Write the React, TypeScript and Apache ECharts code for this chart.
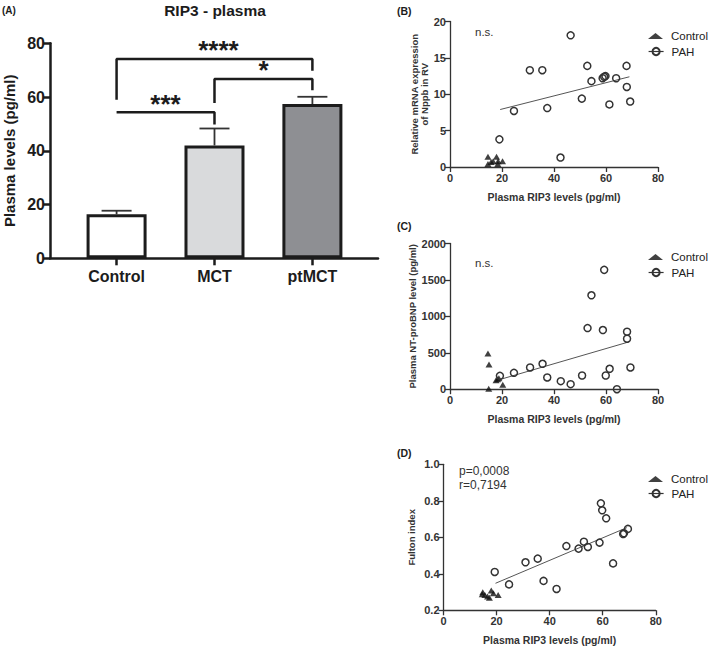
import React, { useEffect, useRef } from 'react';
import * as echarts from 'echarts';

// ---------- Panel A: RIP3 plasma bar chart ----------
const groups = ['Control', 'MCT', 'ptMCT'];
const means = [16.4, 42.0, 57.4];
const sems = [1.3, 6.3, 2.7];
const barColors = ['#ffffff', '#d9dadc', '#8e8f93'];
const yTicksA = { min: 0, max: 80, interval: 20 };

// significance brackets: polyline vertices [groupIndex, value]
const bracketStar3 = [[0, 54.3], [1, 54.3], [1, 49.8]];
const bracketStar1 = [[1, 57.8], [1, 66.7], [2, 66.7], [2, 62.5]];
const bracketStar4 = [[0, 59.0], [0, 74.2], [2, 74.2], [2, 69.8]];
const sigLabels = ['***', '*', '****'];
const sigLabelAt = [[0.5, 57.4], [1.5, 69.9], [1.04, 77.4]];

// ---------- Panel B: Nppb mRNA vs RIP3 ----------
const bControl = [[14.6, 1.4], [14.6, 0.4], [15.8, 0.7], [16.6, 0.8], [17.9, 1.4], [18.5, 0.8], [18.4, 0.4], [20.2, 0.8]];
const bPah = [[19.0, 3.8], [24.6, 7.7], [30.7, 13.3], [35.5, 13.3], [37.4, 8.1], [42.5, 1.3], [46.4, 18.1], [50.7, 9.4],
  [52.8, 13.9], [54.4, 11.8], [58.7, 12.2], [59.3, 12.4], [59.8, 12.5], [61.3, 8.6], [63.9, 12.2], [67.9, 13.9], [68.0, 11.0], [69.3, 9.0]];
const bFit = [[19.3, 7.9], [69.0, 12.4]];

// ---------- Panel C: NT-proBNP vs RIP3 ----------
const cControl = [[14.6, 491], [15.0, 339], [14.9, 5], [17.7, 124], [18.3, 138], [18.8, 150], [20.3, 60]];
const cPah = [[19.2, 183], [24.6, 225], [30.8, 298], [35.6, 349], [37.4, 161], [42.6, 110], [46.4, 69], [50.8, 188],
  [52.9, 839], [54.4, 1289], [58.8, 812], [59.3, 1638], [59.9, 188], [61.4, 280], [64.2, 0], [68.1, 789], [68.1, 693], [69.4, 298]];
const cFit = [[19.2, 133], [68.1, 642]];

// ---------- Panel D: Fulton index vs RIP3 ----------
const dControl = [[14.6, 0.288], [14.8, 0.299], [15.6, 0.284], [16.6, 0.275], [17.3, 0.269], [18.0, 0.308], [18.8, 0.293], [20.6, 0.284]];
const dPah = [[19.3, 0.410], [24.7, 0.342], [30.9, 0.463], [35.5, 0.483], [37.7, 0.361], [42.6, 0.317], [46.3, 0.552], [50.9, 0.538],
  [52.9, 0.576], [54.4, 0.547], [58.8, 0.571], [59.3, 0.786], [59.8, 0.748], [61.3, 0.704], [63.9, 0.457], [67.7, 0.618], [68.0, 0.622], [69.5, 0.646]];
const dFit = [[19.6, 0.348], [69.1, 0.653]];
const dStats = ['p=0,0008', 'r=0,7194'];

const FONT = '"Liberation Sans", Arial, Helvetica, sans-serif';
const INK = '#1c1c1c';
const SC = '#333333';

function scatterAxes(gi: number, yMin: number, yMax: number, yInt: number, yName: string, yFmt: (v: number) => string, yGap: number) {
  const x = {
    gridIndex: gi, type: 'value', min: 0, max: 80, interval: 20,
    splitLine: { show: false },
    axisLine: { show: true, onZero: false, lineStyle: { color: SC, width: 1.3 } },
    axisTick: { show: true, length: 5, lineStyle: { color: SC, width: 1.3 } },
    axisLabel: { fontSize: 11, fontWeight: 'bold', color: SC, margin: 5, fontFamily: FONT },
    name: 'Plasma RIP3 levels (pg/ml)', nameLocation: 'middle', nameGap: 24,
    nameTextStyle: { fontSize: 10.5, fontWeight: 'bold', color: SC, fontFamily: FONT },
  };
  const y = {
    gridIndex: gi, type: 'value', min: yMin, max: yMax, interval: yInt,
    splitLine: { show: false },
    axisLine: { show: true, onZero: false, lineStyle: { color: SC, width: 1.3 } },
    axisTick: { show: true, length: 5, lineStyle: { color: SC, width: 1.3 } },
    axisLabel: { fontSize: 11, fontWeight: 'bold', color: SC, margin: 4, fontFamily: FONT, formatter: yFmt },
    name: yName, nameLocation: 'middle', nameGap: yGap,
    nameTextStyle: { fontSize: 9.5, fontWeight: 'bold', color: SC, fontFamily: FONT, lineHeight: 10.5 },
  };
  return { x, y };
}

function scatterSeries(gi: number, ctrl: number[][], pah: number[][], fit: number[][]) {
  return [
    {
      type: 'line', name: 'fit' + gi, xAxisIndex: gi, yAxisIndex: gi, data: fit, symbol: 'none',
      lineStyle: { color: '#555', width: 1 }, z: 2, silent: true,
    },
    {
      type: 'scatter', name: 'Control', xAxisIndex: gi, yAxisIndex: gi, data: ctrl,
      symbol: 'triangle', symbolSize: [7, 6], itemStyle: { color: '#111' }, z: 3,
    },
    {
      type: 'line', name: 'PAH', xAxisIndex: gi, yAxisIndex: gi, data: pah,
      symbol: 'circle', symbolSize: 7, showSymbol: true, showAllSymbol: true,
      lineStyle: { width: 0, opacity: 0 },
      itemStyle: { color: 'rgba(255,255,255,0)', borderColor: SC, borderWidth: 1.5 }, z: 4,
    },
  ];
}

function legends(ctrlCenterY: number, pahCenterY: number) {
  const base = {
    left: 648, padding: 0, itemWidth: 15, selectedMode: false,
    textStyle: { fontSize: 11.5, color: '#222', fontFamily: FONT, padding: [0, 0, 0, 3] },
  };
  return [
    { ...base, data: ['Control'], top: ctrlCenterY - 3, itemHeight: 6 },
    { ...base, data: ['PAH'], top: pahCenterY - 4.5, itemHeight: 9, lineStyle: { color: SC, width: 1.2, opacity: 1 } },
  ];
}

export default function App() {
  const ref = useRef<HTMLDivElement>(null);
  useEffect(() => {
    if (!ref.current) return;
    const chart = echarts.init(ref.current, null, { renderer: 'svg' });
    const axB = scatterAxes(1, 0, 20, 5, 'Relative mRNA expression\nof Nppb in RV', (v) => String(v), 20);
    const axC = scatterAxes(2, 0, 2000, 500, 'Plasma NT-proBNP level (pg/ml)', (v) => String(v), 32);
    const axD = scatterAxes(3, 0.2, 1.0, 0.2, 'Fulton index', (v) => v.toFixed(1), 27);

    const bracketLine = (data: number[][]) => ({
      type: 'line', xAxisIndex: 0, yAxisIndex: 0, data, symbol: 'none', silent: true,
      lineStyle: { color: INK, width: 2.5 }, z: 5,
    });

    const option: any = {
      animation: false,
      textStyle: { fontFamily: FONT },
      grid: [
        { left: 50, top: 43.3, width: 328, height: 215 },
        { left: 450, top: 21.5, width: 208, height: 145.5 },
        { left: 450, top: 243.5, width: 208, height: 145.7 },
        { left: 443.5, top: 464.3, width: 212.3, height: 146 },
      ],
      xAxis: [
        {
          gridIndex: 0, type: 'value', min: -0.68, max: 2.67,
          splitLine: { show: false },
          axisLine: { show: true, onZero: false, lineStyle: { color: INK, width: 2.5 } },
          axisTick: { show: true, customValues: [0, 1, 2], length: 7, lineStyle: { color: INK, width: 2.5 } },
          axisLabel: {
            customValues: [0, 1, 2], formatter: (v: number) => groups[Math.round(v)] ?? '',
            fontSize: 16, fontWeight: 'bold', color: INK, margin: 10, fontFamily: FONT,
          },
        },
        axB.x, axC.x, axD.x,
      ],
      yAxis: [
        {
          gridIndex: 0, type: 'value', min: yTicksA.min, max: yTicksA.max, interval: yTicksA.interval,
          splitLine: { show: false },
          axisLine: { show: true, onZero: false, lineStyle: { color: INK, width: 2.5 } },
          axisTick: { show: true, length: 7, lineStyle: { color: INK, width: 2.5 } },
          axisLabel: { fontSize: 16, fontWeight: 'bold', color: INK, margin: 5, fontFamily: FONT },
          name: 'Plasma levels (pg/ml)', nameLocation: 'middle', nameGap: 33,
          nameTextStyle: { fontSize: 15, fontWeight: 'bold', color: INK, fontFamily: FONT },
        },
        axB.y, axC.y, axD.y,
      ],
      legend: [...legends(33, 50), ...legends(254, 271), ...legends(476, 492)],
      graphic: [
        { type: 'text', x: 2, y: 10, style: { text: '(A)', font: `bold 10px ${FONT}`, fill: INK, verticalAlign: 'middle' } },
        { type: 'text', x: 215, y: 10, style: { text: 'RIP3 - plasma', font: `bold 15.5px ${FONT}`, fill: INK, align: 'center', verticalAlign: 'middle' } },
        { type: 'text', x: 397, y: 10.5, style: { text: '(B)', font: `bold 10.5px ${FONT}`, fill: INK, verticalAlign: 'middle' } },
        { type: 'text', x: 397, y: 225.5, style: { text: '(C)', font: `bold 10.5px ${FONT}`, fill: INK, verticalAlign: 'middle' } },
        { type: 'text', x: 397, y: 453, style: { text: '(D)', font: `bold 10.5px ${FONT}`, fill: INK, verticalAlign: 'middle' } },
        { type: 'text', x: 475, y: 32, style: { text: 'n.s.', font: `11.5px ${FONT}`, fill: SC, verticalAlign: 'middle' } },
        { type: 'text', x: 475, y: 263, style: { text: 'n.s.', font: `11.5px ${FONT}`, fill: SC, verticalAlign: 'middle' } },
        { type: 'text', x: 459, y: 471, style: { text: dStats[0], font: `12px ${FONT}`, fill: SC, verticalAlign: 'middle' } },
        { type: 'text', x: 459, y: 485, style: { text: dStats[1], font: `12px ${FONT}`, fill: SC, verticalAlign: 'middle' } },
      ],
      series: [
        {
          type: 'custom', name: 'err', xAxisIndex: 0, yAxisIndex: 0, z: 2, silent: true,
          data: sems.map((s, i) => [i, means[i], means[i] + s]),
          renderItem: (params: any, api: any) => {
            const x = api.value(0);
            const lo = api.coord([x, api.value(1)]);
            const hi = api.coord([x, api.value(2)]);
            const st = { stroke: '#333', lineWidth: 1.8 };
            return {
              type: 'group', children: [
                { type: 'line', shape: { x1: lo[0], y1: lo[1], x2: hi[0], y2: hi[1] }, style: st },
                { type: 'line', shape: { x1: hi[0] - 15, y1: hi[1], x2: hi[0] + 15, y2: hi[1] }, style: st },
              ],
            };
          },
        },
        {
          type: 'bar', name: 'RIP3', xAxisIndex: 0, yAxisIndex: 0, barWidth: 60, z: 3,
          data: means.map((m, i) => ({ value: [i, m], itemStyle: { color: barColors[i] } })),
          itemStyle: { borderColor: INK, borderWidth: 3 },
        },
        bracketLine(bracketStar3),
        bracketLine(bracketStar1),
        bracketLine(bracketStar4),
        {
          type: 'custom', name: 'sig', xAxisIndex: 0, yAxisIndex: 0, z: 6, silent: true,
          data: sigLabelAt,
          renderItem: (params: any, api: any) => {
            const p = api.coord([api.value(0), api.value(1)]);
            return {
              type: 'text', x: p[0], y: p[1],
              style: { text: sigLabels[params.dataIndex], font: `bold 26px ${FONT}`, fill: INK, align: 'center', verticalAlign: 'middle' },
            };
          },
        },
        ...scatterSeries(1, bControl, bPah, bFit),
        ...scatterSeries(2, cControl, cPah, cFit),
        ...scatterSeries(3, dControl, dPah, dFit),
      ],
    };
    chart.setOption(option);
    return () => chart.dispose();
  }, []);
  return <div ref={ref} style={{ position: 'absolute', left: 0, top: 0, width: 709, height: 650, background: '#fff' }} />;
}
